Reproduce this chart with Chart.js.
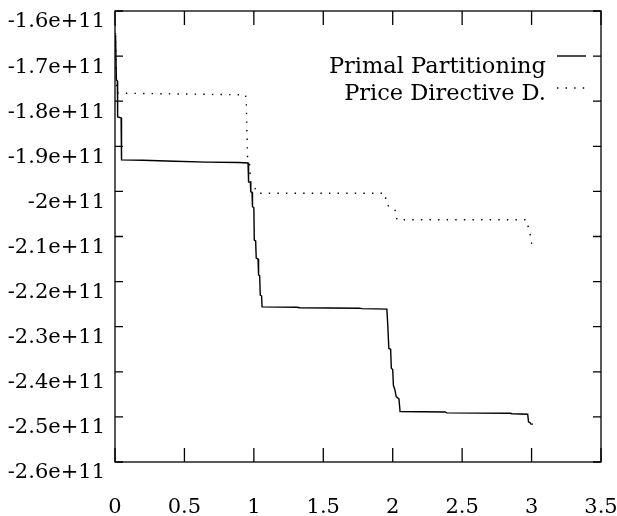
<!DOCTYPE html>
<html><head><meta charset="utf-8">
<script src="https://cdn.jsdelivr.net/npm/chart.js@4/dist/chart.umd.min.js"></script>
<style>html,body{margin:0;padding:0;background:#fff;}#wrap{width:617px;height:516px;}</style>
</head><body><div id="wrap"><canvas id="c" width="617" height="516"></canvas></div>
<script>
const seriesNames = ['Primal Partitioning', 'Price Directive D.'];

const primalX = [0.004,0.010,0.017,0.019,0.044,0.047,0.20,0.43,0.66,0.89,0.958,0.962,0.975,0.978,0.987,0.990,1.000,1.003,1.013,1.017,1.030,1.034,1.042,1.046,1.056,1.059,1.31,1.33,1.76,1.78,1.958,1.965,1.972,1.985,1.990,2.000,2.005,2.016,2.025,2.045,2.053,2.377,2.39,2.845,2.86,2.972,2.978,2.990,2.996,3.010];
const primalY = [-1.653e11,-1.753e11,-1.755e11,-1.835e11,-1.837e11,-1.930e11,-1.931e11,-1.933e11,-1.935e11,-1.936e11,-1.937e11,-1.979e11,-1.980e11,-2.001e11,-2.002e11,-2.034e11,-2.036e11,-2.108e11,-2.110e11,-2.148e11,-2.150e11,-2.185e11,-2.187e11,-2.230e11,-2.232e11,-2.256e11,-2.257e11,-2.258e11,-2.259e11,-2.260e11,-2.261e11,-2.300e11,-2.348e11,-2.350e11,-2.392e11,-2.395e11,-2.430e11,-2.440e11,-2.455e11,-2.460e11,-2.488e11,-2.489e11,-2.491e11,-2.492e11,-2.493e11,-2.494e11,-2.511e11,-2.513e11,-2.516e11,-2.516e11];

const priceX = [0.002,0.006,0.012,0.015,0.940,0.945,0.955,0.970,0.975,0.985,1.005,1.020,1.025,1.944,1.957,1.975,1.993,2.025,2.030,2.965,2.976,2.989,2.995,3.008];
const priceY = [-1.630e11,-1.700e11,-1.775e11,-1.782e11,-1.786e11,-1.800e11,-1.930e11,-1.941e11,-1.975e11,-1.986e11,-1.990e11,-2.001e11,-2.004e11,-2.004e11,-2.030e11,-2.033e11,-2.035e11,-2.045e11,-2.063e11,-2.063e11,-2.079e11,-2.092e11,-2.109e11,-2.123e11];

const xTickLabels = ['0','0.5','1','1.5','2','2.5','3','3.5'];
const yTickLabels = ['-2.6e+11','-2.5e+11','-2.4e+11','-2.3e+11','-2.2e+11','-2.1e+11','-2e+11','-1.9e+11','-1.8e+11','-1.7e+11','-1.6e+11'];

const FONT = 'DejaVu Serif';
const toPts = (xs, ys) => xs.map((x, i) => ({x: x, y: ys[i]}));

const framePlugin = {
  id: 'frame',
  afterDatasetsDraw(chart) {
    const {ctx, chartArea: a, scales: {x, y}} = chart;
    ctx.save();
    ctx.strokeStyle = '#000';
    ctx.lineWidth = 1.3;
    ctx.strokeRect(a.left, a.top, a.right - a.left, a.bottom - a.top);
    ctx.beginPath();
    x.ticks.forEach(t => {
      const px = x.getPixelForValue(t.value);
      ctx.moveTo(px, a.bottom); ctx.lineTo(px, a.bottom - 14);
      ctx.moveTo(px, a.top); ctx.lineTo(px, a.top + 14);
    });
    y.ticks.forEach(t => {
      const py = y.getPixelForValue(t.value);
      ctx.moveTo(a.left, py); ctx.lineTo(a.left + 8, py);
      ctx.moveTo(a.right, py); ctx.lineTo(a.right - 8, py);
    });
    ctx.stroke();
    // legend
    ctx.font = '22.5px "' + FONT + '"';
    ctx.fillStyle = '#000';
    ctx.textAlign = 'right';
    ctx.textBaseline = 'alphabetic';
    const items = [{lineY: 56, textY: 73}, {lineY: 88, textY: 100}];
    chart.data.datasets.forEach((ds, i) => {
      const it = items[i];
      ctx.fillText(ds.label, 546, it.textY);
      ctx.beginPath();
      ctx.lineWidth = ds.borderWidth;
      ctx.setLineDash(ds.borderDash || []);
      ctx.moveTo(557, it.lineY); ctx.lineTo(586, it.lineY);
      ctx.stroke();
      ctx.setLineDash([]);
    });
    ctx.restore();
  }
};

new Chart(document.getElementById('c'), {
  type: 'line',
  data: {
    datasets: [
      {label: seriesNames[0], data: toPts(primalX, primalY), borderColor: '#000', borderWidth: 1.4, pointRadius: 0, fill: false, tension: 0},
      {label: seriesNames[1], data: toPts(priceX, priceY), borderColor: '#000', borderWidth: 1.4, borderDash: [1.4, 7.2], pointRadius: 0, fill: false, tension: 0}
    ]
  },
  options: {
    responsive: false,
    animation: false,
    layout: {padding: {top: 11, right: 16, left: 0, bottom: 0}},
    plugins: {legend: {display: false}, tooltip: {enabled: false}},
    scales: {
      x: {
        type: 'linear', min: 0, max: 3.5,
        grid: {display: false, drawTicks: false},
        border: {display: false},
        afterFit: s => { s.height = 54; s.paddingLeft = 0; s.paddingRight = 0; },
        ticks: {
          stepSize: 0.5, padding: 33, color: '#000', maxRotation: 0,
          font: {family: FONT, size: 21},
          callback: v => xTickLabels[Math.round(v / 0.5)]
        }
      },
      y: {
        type: 'linear', min: -2.6e11, max: -1.6e11,
        grid: {display: false, drawTicks: false},
        border: {display: false},
        afterFit: s => { s.width = 115; s.paddingTop = 0; s.paddingBottom = 0; },
        ticks: {
          stepSize: 1e10, padding: 10, color: '#000', labelOffset: 11,
          font: {family: FONT, size: 21},
          callback: v => yTickLabels[Math.round((v + 2.6e11) / 1e10)]
        }
      }
    }
  },
  plugins: [framePlugin]
});
</script>
</body></html>
